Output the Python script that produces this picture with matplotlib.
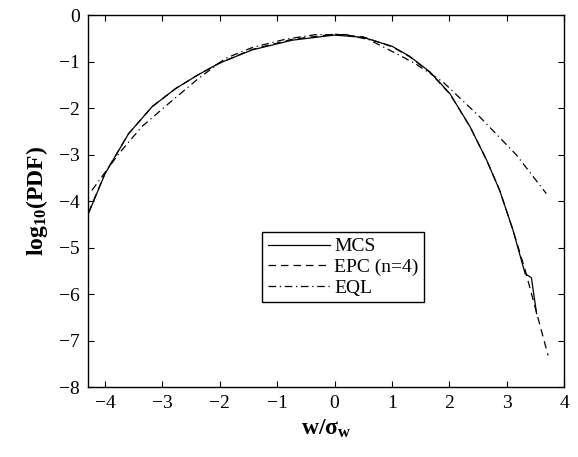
import numpy as np
import matplotlib.pyplot as plt

plt.rcParams['font.family'] = 'Liberation Serif'
plt.rcParams['mathtext.fontset'] = 'custom'
plt.rcParams['mathtext.rm'] = 'Liberation Serif'
plt.rcParams['mathtext.it'] = 'Liberation Serif:italic'
plt.rcParams['mathtext.bf'] = 'Liberation Serif:bold'
plt.rcParams['axes.unicode_minus'] = True

## Monte Carlo reference
mcs_x = [-4.29, -4.00, -3.59, -3.18, -2.77, -2.40, -2.02, -1.44, -0.74, 0.0,
         0.5, 1.0, 1.30, 1.66, 2.01, 2.36, 2.65, 2.88, 3.11, 3.32, 3.43,
         3.52]
mcs_y = [-4.27, -3.41, -2.55, -1.97, -1.58, -1.30, -1.04, -0.75, -0.54, -0.43,
         -0.48, -0.67, -0.88, -1.22, -1.69, -2.40, -3.12, -3.78, -4.63, -5.56,
         -5.65, -6.42]

## EPC with n=4
epc_x = [-4.29, -4.00, -3.59, -3.18, -2.77, -2.40, -2.02, -1.44, -0.74, 0.0,
         0.5, 1.0, 1.30, 1.66, 2.01, 2.36, 2.65, 2.88, 3.11, 3.32, 3.52,
         3.72]
epc_y = [-4.25, -3.40, -2.55, -1.97, -1.58, -1.30, -1.04, -0.74, -0.52, -0.41,
         -0.47, -0.68, -0.89, -1.23, -1.70, -2.40, -3.12, -3.78, -4.63, -5.48,
         -6.40, -7.32]

## equivalent linearization
eql_x = [-4.23, -3.76, -3.36, -2.89, -2.37, -1.90, -1.44, -0.86, -0.33, 0.2,
         0.6, 1.0, 1.40, 1.89, 2.53, 3.17, 3.69]
eql_y = [-3.77, -2.98, -2.40, -1.90, -1.36, -0.93, -0.70, -0.52, -0.42, -0.42,
         -0.53, -0.78, -1.04, -1.44, -2.19, -3.01, -3.84]

xticks = [-4, -3, -2, -1, 0, 1, 2, 3, 4]
yticks = [0, -1, -2, -3, -4, -5, -6, -7, -8]

fig = plt.figure(figsize=(5.78, 4.57), dpi=100)
ax = fig.add_axes([0.152, 0.153, 0.824, 0.814])

ax.plot(mcs_x, mcs_y, c='k', lw=0.9, ls='-', label='MCS')
ax.plot(epc_x, epc_y, c='k', lw=0.9, ls=(0, (6, 4)), label='EPC (n=4)')
ax.plot(eql_x, eql_y, c='k', lw=0.9, ls=(0, (6, 3, 1, 3)), label='EQL')

ax.set_xlim(-4.3, 4)
ax.set_ylim(-8, 0)
ax.set_xticks(xticks)
ax.set_yticks(yticks)
ax.tick_params(direction='in', top=True, right=True, length=4, width=0.8,
               labelsize=14, pad=6)
for s in ax.spines.values():
    s.set_linewidth(1.0)

ax.set_xlabel(r'$\mathbf{w/\sigma_w}$', fontsize=17, labelpad=4)
ax.set_ylabel(r'$\mathbf{log_{10}(PDF)}$', fontsize=17, labelpad=6)

leg = ax.legend(loc='upper left', bbox_to_anchor=(0.366, 0.417), fontsize=14,
                frameon=True, fancybox=False, edgecolor='k', framealpha=1,
                borderaxespad=0, handlelength=3.2, handletextpad=0.2,
                labelspacing=0.15, borderpad=0.3)
leg.get_frame().set_linewidth(1.0)

fig.savefig('out.png', dpi=100)
